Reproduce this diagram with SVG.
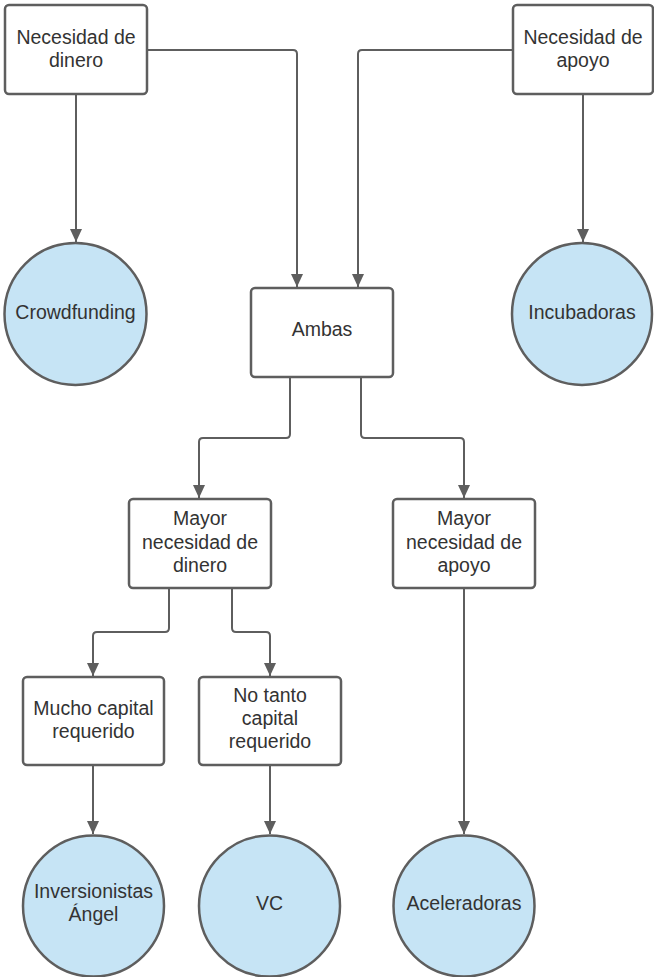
<svg xmlns="http://www.w3.org/2000/svg" width="654" height="977" viewBox="0 0 654 977">
  <style>
    .box { fill: #ffffff; stroke: #5e5e5e; stroke-width: 2.5; }
    .term { fill: #c6e4f5; stroke: #5e5e5e; stroke-width: 2.5; }
    .lbl { font-family: "Liberation Sans", Arial, sans-serif; font-size: 19.5px; fill: #333333; text-anchor: middle; }
    .conn { fill: none; stroke: #5e5e5e; stroke-width: 2; marker-end: url(#arrow); }
  </style>
  <defs>
    <marker id="arrow" markerUnits="userSpaceOnUse" markerWidth="14" markerHeight="12" viewBox="0 0 14 12" refX="13" refY="6" orient="auto">
      <path d="M0,0 L13,6 L0,12 Z" fill="#5e5e5e"/>
    </marker>
  </defs>

  <rect width="654" height="977" fill="#ffffff"/>

  <!-- connectors -->
  <g id="connectors">
    <path class="conn" d="M147,50 H293 Q297,50 297,54 V287"/>
    <path class="conn" d="M76,94 V242"/>
    <path class="conn" d="M513,50 H362 Q358,50 358,54 V287"/>
    <path class="conn" d="M583,94 V242"/>
    <path class="conn" d="M290,377 V434 Q290,438 286,438 H203 Q199,438 199,442 V498"/>
    <path class="conn" d="M361,377 V434 Q361,438 365,438 H460 Q464,438 464,442 V498"/>
    <path class="conn" d="M169,588 V628 Q169,632 165,632 H97 Q93,632 93,636 V676"/>
    <path class="conn" d="M232,588 V628 Q232,632 236,632 H266 Q270,632 270,636 V676"/>
    <path class="conn" d="M93,765 V834"/>
    <path class="conn" d="M270,765 V834"/>
    <path class="conn" d="M464,588 V834"/>
  </g>

  <!-- nodes -->
  <g id="necesidad-dinero">
    <rect class="box" x="5" y="5" width="142" height="89" rx="4"/>
    <text class="lbl" x="76" y="43.5">Necesidad de</text>
    <text class="lbl" x="76" y="66.5">dinero</text>
  </g>

  <g id="necesidad-apoyo">
    <rect class="box" x="513" y="5" width="140" height="89" rx="4"/>
    <text class="lbl" x="583" y="43.5">Necesidad de</text>
    <text class="lbl" x="583" y="66.5">apoyo</text>
  </g>

  <g id="crowdfunding">
    <ellipse class="term" cx="75.5" cy="314" rx="71" ry="71"/>
    <text class="lbl" x="75.5" y="318.5">Crowdfunding</text>
  </g>

  <g id="ambas">
    <rect class="box" x="251" y="288" width="142" height="89" rx="4"/>
    <text class="lbl" x="322" y="336">Ambas</text>
  </g>

  <g id="incubadoras">
    <ellipse class="term" cx="582" cy="314" rx="70" ry="71"/>
    <text class="lbl" x="582" y="318.5">Incubadoras</text>
  </g>

  <g id="mayor-dinero">
    <rect class="box" x="129" y="499" width="142" height="89" rx="4"/>
    <text class="lbl" x="200" y="525">Mayor</text>
    <text class="lbl" x="200" y="548.5">necesidad de</text>
    <text class="lbl" x="200" y="572">dinero</text>
  </g>

  <g id="mayor-apoyo">
    <rect class="box" x="393" y="499" width="142" height="89" rx="4"/>
    <text class="lbl" x="464" y="525">Mayor</text>
    <text class="lbl" x="464" y="548.5">necesidad de</text>
    <text class="lbl" x="464" y="572">apoyo</text>
  </g>

  <g id="mucho-capital">
    <rect class="box" x="23" y="677" width="141" height="88" rx="4"/>
    <text class="lbl" x="93.5" y="714.5">Mucho capital</text>
    <text class="lbl" x="93.5" y="737.5">requerido</text>
  </g>

  <g id="no-tanto-capital">
    <rect class="box" x="199" y="677" width="142" height="88" rx="4"/>
    <text class="lbl" x="270" y="701.5">No tanto</text>
    <text class="lbl" x="270" y="725">capital</text>
    <text class="lbl" x="270" y="748">requerido</text>
  </g>

  <g id="inversionistas-angel">
    <ellipse class="term" cx="93.5" cy="906" rx="70.5" ry="70.5"/>
    <text class="lbl" x="93.5" y="897.5">Inversionistas</text>
    <text class="lbl" x="93.5" y="920.5">Ángel</text>
  </g>

  <g id="vc">
    <ellipse class="term" cx="269.5" cy="906" rx="70.5" ry="70.5"/>
    <text class="lbl" x="269.5" y="910">VC</text>
  </g>

  <g id="aceleradoras">
    <ellipse class="term" cx="464" cy="906" rx="70.5" ry="70.5"/>
    <text class="lbl" x="464" y="910">Aceleradoras</text>
  </g>
</svg>
